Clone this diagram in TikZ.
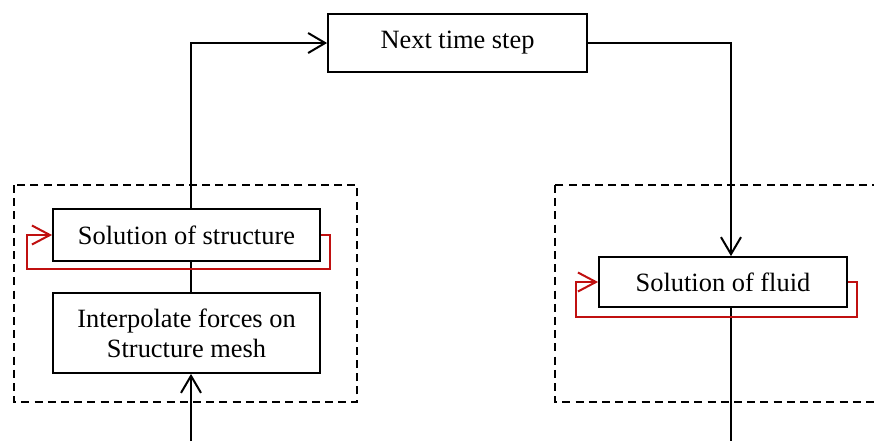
\documentclass[tikz,border=0pt]{standalone}
\usepackage{fontspec}
\setmainfont{Liberation Serif}
\usetikzlibrary{arrows.meta}
\definecolor{looped}{RGB}{192,16,16}
\begin{document}
\begin{tikzpicture}[x=0.5pt,y=-0.5pt,
  font=\fontsize{13.2}{15}\selectfont,
  stepbox/.style={draw,line width=0.9pt,inner sep=0pt,align=center},
  flow/.style={line width=1pt,-{Straight Barb[length=8.5pt,width=10pt,line width=1pt]}},
  plain/.style={line width=0.8pt},
  iterate/.style={draw=looped,line width=0.8pt,-{Straight Barb[length=9pt,width=9.5pt,line width=1pt]}},
  frame/.style={line width=0.75pt,dash pattern=on 4pt off 2.6pt}]
\useasboundingbox (0,0) rectangle (874,441);

% dashed grouping frames
\draw[frame] (14,185) rectangle (357,402);
\draw[frame] (555,185) rectangle (890,402);

% process boxes
\node[stepbox,minimum width=129.5pt,minimum height=29pt] (next) at (457.5,43) {Next time step};
\node[stepbox,minimum width=133.5pt,minimum height=26pt] (struct) at (186.5,235) {Solution of structure};
\node[stepbox,minimum width=133.5pt,minimum height=40pt] (interp) at (186.5,333) {Interpolate forces on\\Structure mesh};
\node[stepbox,minimum width=124pt,minimum height=25pt] (fluid) at (723,282) {Solution of fluid};

% helper coordinates
\coordinate (ax) at (191,0);
\coordinate (bx) at (731,0);
\coordinate (inL) at (191,441);
\coordinate (outR) at (731,441);
\coordinate (sl) at (27,269);
\coordinate (fl) at (576,317);

% main flow
\draw[flow] (struct.north -| ax) |- (next.west);
\draw[flow] (next.east) -| (fluid.north -| bx);
\draw[plain] (struct.south -| ax) -- (interp.north -| ax);
\draw[flow] (inL) -- (interp.south -| ax);
\draw[plain] (fluid.south -| bx) -- (outR);

% inner iterations
\draw[iterate] (struct.east) -- ++(9,0) |- (sl) |- (struct.west);
\draw[iterate] (fluid.east) -- ++(9,0) |- (fl) |- (fluid.west);
\end{tikzpicture}
\end{document}
